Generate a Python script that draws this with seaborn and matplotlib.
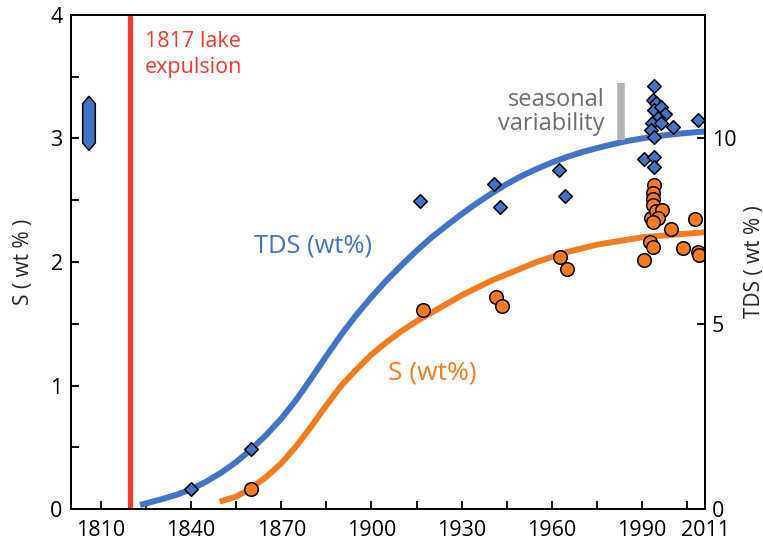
import numpy as np
import pandas as pd
import matplotlib
matplotlib.use("Agg")
import matplotlib.pyplot as plt
import seaborn as sns

# ---------------- data ----------------
# TDS observations (wt %), right axis
tds_years = [1840, 1860, 1916, 1940.7, 1942.7, 1962.3, 1964.3,
             1994, 1993.7, 1994.7, 1994, 1996.3, 1997.7, 1995.3, 1993.3,
             1996.3, 2000.3, 1993, 1994, 1990.7, 1994, 1994, 2008.7]
tds_vals = [0.54, 1.62, 8.32, 8.76, 8.14, 9.16, 8.46,
            11.41, 11.05, 10.95, 10.78, 10.84, 10.65, 10.54, 10.43,
            10.41, 10.30, 10.22, 10.03, 9.46, 9.49, 9.24, 10.51]

# S observations (wt %), left axis
s_years = [1860, 1917.3, 1941.3, 1943.3, 1962.7, 1965,
           1994, 1993.7, 1993.7, 1993.7, 1993, 1994.7, 1996.7, 1995.3,
           1993.7, 1999.7, 2007.7, 1992.7, 1993.7, 1990.7, 2003.7, 2008.7, 2009]
s_vals = [0.16, 1.61, 1.72, 1.64, 2.04, 1.94,
          2.62, 2.56, 2.51, 2.46, 2.36, 2.41, 2.42, 2.36,
          2.32, 2.27, 2.35, 2.16, 2.12, 2.02, 2.11, 2.08, 2.06]

# fitted trend curves
tds_curve_years = [1823, 1830, 1835, 1840, 1845, 1850, 1855, 1860, 1865, 1870,
                   1875, 1880, 1885, 1890, 1895, 1900, 1905, 1910, 1915, 1920,
                   1925, 1930, 1935, 1940, 1945, 1950, 1955, 1960, 1965, 1970,
                   1975, 1980, 1985, 1990, 1995, 2000, 2005, 2011]
tds_curve_vals = [0.11, 0.26, 0.38, 0.53, 0.74, 0.98, 1.27, 1.61, 2.00, 2.44,
                  2.95, 3.53, 4.13, 4.71, 5.24, 5.72, 6.17, 6.58, 6.97, 7.33,
                  7.65, 7.96, 8.25, 8.52, 8.77, 8.99, 9.18, 9.35, 9.50, 9.63,
                  9.74, 9.84, 9.93, 10.00, 10.06, 10.11, 10.15, 10.19]

s_curve_years = [1849.5, 1855, 1860, 1865, 1870, 1875, 1880, 1885, 1890, 1895,
                 1900, 1905, 1910, 1915, 1920, 1925, 1930, 1935, 1940, 1945,
                 1950, 1955, 1960, 1965, 1970, 1975, 1980, 1985, 1990, 1995,
                 2000, 2005, 2011]
s_curve_vals = [0.06, 0.10, 0.17, 0.26, 0.37, 0.51, 0.67, 0.84, 1.00, 1.13,
                1.25, 1.35, 1.44, 1.52, 1.59, 1.66, 1.73, 1.79, 1.85, 1.90,
                1.95, 2.00, 2.04, 2.08, 2.11, 2.14, 2.16, 2.18, 2.20, 2.21,
                2.22, 2.23, 2.24]

# pre-1817 TDS range and seasonal variability bar
pre_year = 1806
pre_tds_range = [9.68, 11.14]
seasonal_year = 1983
seasonal_tds_range = [9.97, 11.51]
expulsion_year = 1819.6

x_major = [1810, 1840, 1870, 1900, 1930, 1960, 1990, 2011]

# ---------------- style ----------------
BLUE = "#4472C4"
ORANGE = "#F47B20"
RED = "#F03A2E"
GRAY_BAR = "#B4B4B4"
GRAY_TXT = "#6E6E6E"

sns.set_style("ticks")
plt.rcParams["font.family"] = ["Open Sans", "DejaVu Sans"]

fig = plt.figure(figsize=(7.63, 5.43), dpi=100)
ax = fig.add_axes([0.093, 0.0626, 0.831, 0.9098])
ax2 = ax.twinx()

xmin, xmax = 1800, 2011
smax = 4.0
ax.set_xlim(xmin, xmax)
ax.set_ylim(0, smax)
ax2.set_ylim(0, smax * 10 / 3)

# curves
tds_curve = pd.DataFrame({"year": tds_curve_years, "tds": tds_curve_vals})
s_curve = pd.DataFrame({"year": s_curve_years, "s": s_curve_vals})
sns.lineplot(data=s_curve, x="year", y="s", ax=ax, color=ORANGE, lw=4.3,
             solid_capstyle="butt", solid_joinstyle="round", zorder=2)
sns.lineplot(data=tds_curve, x="year", y="tds", ax=ax2, color=BLUE, lw=4.3,
             solid_capstyle="butt", solid_joinstyle="round", zorder=2)

# red expulsion line
ax.axvline(expulsion_year, ymin=0, ymax=0.996, color=RED, lw=3.8, zorder=3)

# observations
s_df = pd.DataFrame({"year": s_years, "s": s_vals})
tds_df = pd.DataFrame({"year": tds_years, "tds": tds_vals})
sns.scatterplot(data=s_df, x="year", y="s", ax=ax, marker="o", s=95,
                color=ORANGE, edgecolor="black", linewidth=1.1, zorder=4)
sns.scatterplot(data=tds_df, x="year", y="tds", ax=ax2, marker="D", s=48,
                color=BLUE, edgecolor="black", linewidth=1.1, zorder=4)

# pre-1817 range hexagon
w = 2.1
d = 0.2
lo, hi = pre_tds_range
hx = [pre_year, pre_year + w, pre_year + w, pre_year, pre_year - w, pre_year - w]
hy = [hi, hi - d, lo + d, lo, lo + d, hi - d]
ax2.fill(hx, hy, facecolor=BLUE, edgecolor="black", lw=1.1, zorder=4)

# seasonal variability bar
ax2.plot([seasonal_year, seasonal_year], seasonal_tds_range, color=GRAY_BAR,
         lw=5.5, solid_capstyle="butt", zorder=2)

# texts
ax.text(1824.6, 3.87, "1817 lake\nexpulsion", color=RED, fontsize=15.5,
        va="top", ha="left", linespacing=1.32)
ax.text(1977.5, 3.41, "seasonal\nvariability", color=GRAY_TXT, fontsize=17,
        va="top", ha="right", linespacing=1.02)
ax.text(1880.5, 2.13, "TDS (wt%)", color=BLUE, fontsize=18.4, ha="center", va="center")
ax.text(1920.3, 1.10, "S (wt%)", color=ORANGE, fontsize=19, ha="center", va="center")

# axes / ticks
xt = list(range(1810, 2006, 15)) + [2011]
ax.set_xticks(xt)
ax.set_xticklabels([str(t) if t in x_major else "" for t in xt])
ax.set_yticks(np.arange(0, 4.01, 0.5))
ax.set_yticklabels([f"{v:g}" if float(v).is_integer() else "" for v in np.arange(0, 4.01, 0.5)])
ax2.set_yticks([0, 5, 10])
ax2.set_yticklabels(["0", "5", "10"])

for a in (ax, ax2):
    a.tick_params(direction="in", length=6, width=1.3, labelsize=15.5, colors="black")
    for sp in a.spines.values():
        sp.set_visible(True)
        sp.set_linewidth(1.3)
        sp.set_color("black")
ax.tick_params(axis="x", pad=8)
ax.tick_params(axis="y", pad=6)
ax2.tick_params(axis="y", pad=5)

ax.set_xlabel("")
ax.set_ylabel("S ( wt % )", fontsize=15, labelpad=12)
ax2.set_ylabel("TDS ( wt % )", fontsize=15, labelpad=5)

fig.savefig("out.png", dpi=100)
